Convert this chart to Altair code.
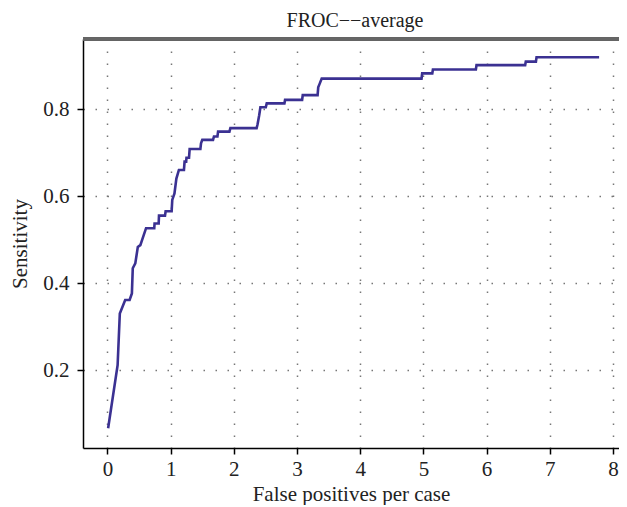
import altair as alt
import pandas as pd

fp = [0.01, 0.16, 0.195, 0.28, 0.35, 0.386, 0.40, 0.44, 0.48, 0.52, 0.61, 0.74,
      0.745, 0.81, 0.815, 0.91, 0.92, 1.015, 1.025, 1.06, 1.09, 1.13, 1.21, 1.22,
      1.245, 1.25, 1.29, 1.30, 1.47, 1.48, 1.50, 1.67, 1.685, 1.74, 1.75, 1.93,
      1.945, 2.36, 2.375, 2.40, 2.42, 2.505, 2.52, 2.80, 2.81, 3.08, 3.09, 3.325,
      3.335, 3.36, 3.39, 4.97, 4.98, 5.14, 5.15, 5.83, 5.84, 6.61, 6.62, 6.78,
      6.79, 7.78]
sens = [0.066, 0.211, 0.33, 0.361, 0.361, 0.376, 0.434, 0.445, 0.483, 0.487, 0.526, 0.526,
        0.537, 0.537, 0.555, 0.555, 0.565, 0.565, 0.591, 0.606, 0.64, 0.66, 0.66, 0.679,
        0.679, 0.688, 0.688, 0.708, 0.708, 0.721, 0.729, 0.729, 0.737, 0.737, 0.748, 0.748,
        0.756, 0.756, 0.765, 0.785, 0.804, 0.804, 0.813, 0.813, 0.821, 0.821, 0.832, 0.832,
        0.850, 0.859, 0.870, 0.870, 0.882, 0.882, 0.891, 0.891, 0.901, 0.901, 0.909, 0.909,
        0.919, 0.919]
x_ticks = [0, 1, 2, 3, 4, 5, 6, 7, 8]
y_ticks = [0.2, 0.4, 0.6, 0.8]
title_text = "FROC−−average"

df = pd.DataFrame({"fp": fp, "sens": sens, "order": list(range(len(fp)))})

W, H = 536, 409
FONT = "Liberation Serif"

line = alt.Chart(df).mark_line(color="#3b3192", strokeWidth=2.6, clip=True).encode(
    x=alt.X("fp:Q",
            scale=alt.Scale(domain=[-0.3877, 8.095], nice=False, zero=False),
            axis=alt.Axis(values=x_ticks, title="False positives per case",
                          format="d", grid=True)),
    y=alt.Y("sens:Q",
            scale=alt.Scale(domain=[0.0207, 0.961], nice=False, zero=False),
            axis=alt.Axis(values=y_ticks, title="Sensitivity", format=".1f", grid=True)),
    order="order:Q",
)

top = alt.Chart(df).mark_rule(color="#666666", strokeWidth=2.5).encode(
    x=alt.value(0), x2=alt.value(W), y=alt.value(0)
)

title = alt.Chart(pd.DataFrame({"t": [title_text]})).mark_text(
    font=FONT, fontSize=20, color="#222222", align="center", baseline="alphabetic"
).encode(
    x=alt.value(W / 2 + 4), y=alt.value(-12), text="t:N"
)

chart = alt.layer(line, top, title).properties(
    width=W, height=H,
    autosize=alt.AutoSizeParams(type="none"),
    padding={"left": 75, "top": 31, "right": 0, "bottom": 57},
).configure_view(stroke=None).configure_axis(
    labelFont=FONT, labelFontSize=21, labelColor="#222222",
    titleFont=FONT, titleFontSize=21, titleFontWeight="normal", titleColor="#222222",
    domainColor="#000000", domainWidth=1.5, tickColor="#000000", tickWidth=1.5, tickSize=6,
    gridColor="#777777", gridDash=[1.5, 10.5], gridWidth=1.5,
).configure_axisX(
    labelPadding=4, titlePadding=4
).configure_axisY(
    labelPadding=8, titlePadding=12
)

chart.save("out.html", embed_options={"renderer": "svg", "actions": False})
